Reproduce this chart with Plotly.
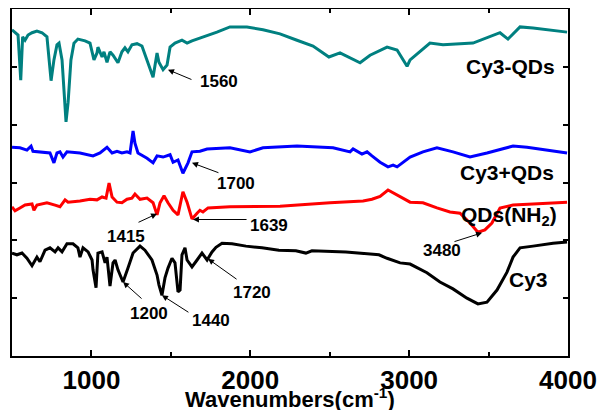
import plotly.graph_objects as go

# ---------------- data (wavenumber cm-1, offset transmittance a.u.) ----------------
cy3qds_wn = [500, 519, 538, 555, 567, 582, 601, 626, 657, 689, 720, 746, 764, 783, 796, 815, 840, 853, 871, 890,
             915, 960, 991, 1016, 1035, 1041, 1067, 1079, 1098, 1117, 1136, 1167, 1192, 1211, 1230, 1255, 1287,
             1318, 1350, 1369, 1388, 1413, 1425, 1451, 1476, 1495, 1526, 1570, 1602, 1633, 1683, 1746, 1790, 1872,
             1979, 2080, 2187, 2294, 2395, 2495, 2565, 2691, 2754, 2861, 2924, 2987, 3006, 3131, 3213, 3402, 3572,
             3622, 3698, 3780, 3994]
cy3qds_t = [5.64, 5.59, 5.55, 4.77, 5.52, 5.46, 5.55, 5.59, 5.62, 5.59, 5.52, 4.76, 5.12, 5.38, 5.41, 5.12, 4.05,
            4.38, 5.12, 5.41, 5.48, 5.45, 5.41, 5.12, 5.24, 5.34, 5.17, 5.26, 5.08, 5.26, 5.20, 5.07, 5.26, 5.33,
            5.26, 5.38, 5.40, 5.36, 5.12, 5.00, 4.82, 5.24, 5.08, 4.95, 5.03, 5.34, 5.41, 5.46, 5.41, 5.45, 5.50,
            5.55, 5.60, 5.69, 5.69, 5.64, 5.57, 5.46, 5.36, 5.17, 5.24, 5.07, 5.20, 5.34, 5.29, 5.01, 5.12, 5.41,
            5.38, 5.41, 5.59, 5.48, 5.69, 5.67, 5.60]

mix_wn = [500, 550, 594, 620, 632, 676, 739, 764, 783, 802, 821, 846, 928, 1010, 1054, 1098, 1130, 1161, 1192,
          1224, 1243, 1262, 1274, 1293, 1350, 1388, 1413, 1451, 1495, 1514, 1545, 1576, 1608, 1633, 1683, 1728,
          1872, 1998, 2080, 2294, 2521, 2628, 2647, 2703, 2735, 2766, 2817, 2867, 2899, 2924, 3006, 3087, 3175,
          3276, 3383, 3490, 3654, 3742, 3994]
mix_t = [3.61, 3.60, 3.56, 3.63, 3.54, 3.53, 3.51, 3.34, 3.51, 3.53, 3.44, 3.53, 3.51, 3.46, 3.51, 3.61, 3.51,
         3.54, 3.51, 3.53, 3.51, 3.89, 3.68, 3.51, 3.42, 3.34, 3.46, 3.44, 3.48, 3.35, 3.39, 3.16, 3.34, 3.53,
         3.54, 3.58, 3.60, 3.53, 3.60, 3.63, 3.60, 3.53, 3.58, 3.49, 3.53, 3.46, 3.35, 3.27, 3.30, 3.27, 3.44,
         3.53, 3.60, 3.53, 3.44, 3.51, 3.63, 3.61, 3.51]

qds_wn = [500, 519, 550, 582, 626, 638, 657, 720, 771, 802, 834, 853, 928, 991, 1035, 1067, 1092, 1111, 1130,
          1161, 1192, 1224, 1255, 1274, 1306, 1350, 1388, 1413, 1432, 1457, 1482, 1514, 1545, 1576, 1602, 1633,
          1665, 1683, 1702, 1734, 1872, 2187, 2502, 2710, 2766, 2817, 2867, 2924, 3006, 3087, 3175, 3257, 3320,
          3383, 3433, 3477, 3521, 3572, 3654, 3780, 3994]
qds_t = [2.58, 2.51, 2.56, 2.61, 2.63, 2.52, 2.61, 2.65, 2.61, 2.58, 2.70, 2.66, 2.68, 2.71, 2.70, 2.75, 2.73,
         2.99, 2.75, 2.66, 2.65, 2.71, 2.73, 2.80, 2.71, 2.73, 2.65, 2.44, 2.65, 2.77, 2.65, 2.52, 2.44, 2.84,
         2.66, 2.37, 2.47, 2.52, 2.49, 2.56, 2.58, 2.59, 2.65, 2.68, 2.71, 2.76, 2.87, 2.78, 2.66, 2.65, 2.56,
         2.49, 2.47, 2.30, 2.14, 2.18, 2.30, 2.56, 2.61, 2.63, 2.66]

cy3_wn = [500, 531, 563, 594, 626, 657, 676, 708, 739, 771, 790, 815, 846, 884, 915, 928, 947, 979, 1004, 1010,
          1029, 1041, 1067, 1086, 1098, 1117, 1136, 1149, 1167, 1199, 1230, 1262, 1306, 1337, 1381, 1413, 1425,
          1444, 1463, 1482, 1507, 1526, 1545, 1558, 1570, 1589, 1602, 1633, 1665, 1696, 1728, 1759, 1784, 1822,
          1885, 1973, 2074, 2180, 2287, 2350, 2388, 2602, 2810, 2861, 2943, 3006, 3112, 3194, 3276, 3364, 3433,
          3490, 3553, 3616, 3654, 3698, 3780, 3906, 3994]
cy3_t = [1.78, 1.75, 1.78, 1.69, 1.56, 1.71, 1.63, 1.83, 1.87, 1.80, 1.87, 1.80, 1.94, 1.94, 1.87, 1.71, 1.87,
         1.80, 1.66, 1.49, 1.18, 1.78, 1.80, 1.61, 1.71, 1.21, 1.61, 1.66, 1.49, 1.28, 1.52, 1.78, 1.90, 1.83,
         1.66, 1.40, 1.23, 1.05, 1.35, 1.52, 1.69, 1.61, 1.11, 1.14, 1.75, 1.87, 1.66, 1.54, 1.66, 1.78, 1.66,
         1.80, 1.88, 1.95, 1.94, 1.90, 1.87, 1.83, 1.82, 1.78, 1.82, 1.80, 1.75, 1.69, 1.61, 1.59, 1.44, 1.28,
         1.16, 1.00, 0.90, 0.93, 1.14, 1.45, 1.71, 1.87, 1.90, 1.95, 1.97]

series_names = ["Cy3-QDs", "Cy3+QDs", "QDs(NH<sub>2</sub>)", "Cy3"]
series_colors = ["#008080", "#0000FF", "#FF0000", "#000000"]
label_x = [3635, 3616, 3628, 3754]
label_y = [5.00, 3.18, 2.42, 1.33]

peak_labels = ["1560", "1700", "1415", "1639", "1200", "1440", "1720", "3480"]
peak_text_x = [1803, 1910, 1218, 2118, 1362, 1753, 2011, 3207]
peak_text_y = [4.74, 2.98, 2.07, 2.25, 0.73, 0.62, 1.09, 1.83]
arrow_tip_x = [1482, 1633, 1413, 1639, 1199, 1444, 1734, 3459]
arrow_tip_y = [4.95, 3.34, 2.46, 2.36, 1.28, 1.05, 1.68, 2.13]
arrow_tail_x = [1639, 1809, 1287, 1986, 1325, 1620, 1923, 3276]
arrow_tail_y = [4.77, 3.16, 2.30, 2.36, 0.97, 0.74, 1.31, 1.97]

x_ticks = [1000, 2000, 3000, 4000]

FONT = "Liberation Sans, Arial, sans-serif"

fig = go.Figure()
for wn, t, name, col in zip([cy3qds_wn, mix_wn, qds_wn, cy3_wn], [cy3qds_t, mix_t, qds_t, cy3_t],
                            series_names, series_colors):
    fig.add_trace(go.Scatter(x=wn, y=t, mode="lines", name=name,
                             line=dict(color=col, width=3), showlegend=False))

annotations = []
for name, lx, ly in zip(series_names, label_x, label_y):
    annotations.append(dict(x=lx, y=ly, xref="x", yref="y", text="<b>%s</b>" % name, showarrow=False,
                            font=dict(family=FONT, size=21, color="black")))
for lab, tx, ty in zip(peak_labels, peak_text_x, peak_text_y):
    annotations.append(dict(x=tx, y=ty, xref="x", yref="y", text="<b>%s</b>" % lab, showarrow=False,
                            font=dict(family=FONT, size=17, color="black")))
for hx, hy, sx, sy in zip(arrow_tip_x, arrow_tip_y, arrow_tail_x, arrow_tail_y):
    annotations.append(dict(x=hx, y=hy, ax=sx, ay=sy, xref="x", yref="y", axref="x", ayref="y",
                            text=" ", font=dict(size=1), showarrow=True, arrowhead=2, arrowsize=1.2,
                            arrowwidth=1, arrowcolor="black", standoff=0, startstandoff=0))
annotations.append(dict(x=0.5, y=-0.076, xref="paper", yref="paper", yanchor="top",
                        text="<b>Wavenumbers(cm<sup>-1</sup>)</b>", showarrow=False,
                        font=dict(family=FONT, size=22, color="black")))

# page body adds an 8px margin; margins below are offset to compensate
fig.update_layout(
    width=597, height=402,
    margin=dict(l=4, r=37, t=1, b=54),
    paper_bgcolor="white", plot_bgcolor="white",
    annotations=annotations,
    font=dict(family=FONT, color="black"),
)
fig.update_xaxes(range=[500, 4000], tickvals=x_ticks, ticktext=["<b>%d</b>" % v for v in x_ticks],
                 ticks="inside", ticklen=6, tickwidth=1.5, tickcolor="black",
                 minor=dict(dtick=500, tick0=500, ticks="inside", ticklen=4, tickwidth=1.5, tickcolor="black"),
                 showline=True, linecolor="black", linewidth=2, mirror="ticks",
                 showgrid=False, zeroline=False, automargin=False,
                 tickfont=dict(family=FONT, size=26, color="black"))
fig.update_yaxes(range=[0, 6], dtick=1, tick0=0, showticklabels=False,
                 ticks="inside", ticklen=5, tickwidth=1.5, tickcolor="black",
                 showline=True, linecolor="black", linewidth=2, mirror="ticks",
                 showgrid=False, zeroline=False, automargin=False)

fig.write_html("out.html")
